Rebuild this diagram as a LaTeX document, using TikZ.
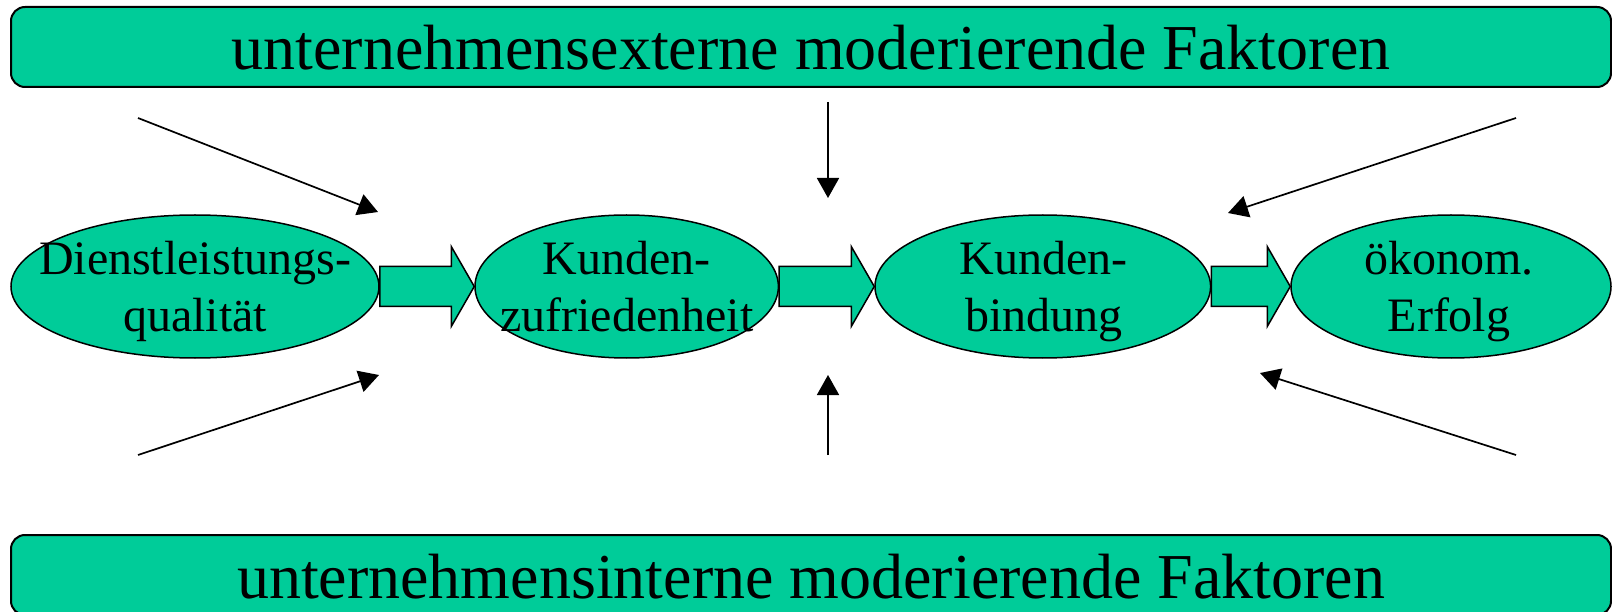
\documentclass[tikz,border=0pt]{standalone}
\usepackage{fontspec}
\setmainfont{Liberation Serif}
\usetikzlibrary{arrows.meta,calc,shapes.geometric}
\definecolor{stagegreen}{RGB}{0,204,153}
\tikzset{
  bar/.style={draw, line width=2pt, fill=stagegreen, rounded corners=14pt,
    minimum width=1600pt, minimum height=80pt, inner sep=0pt,
    font=\fontsize{64}{76}\selectfont, text height=46pt, text depth=0pt},
  stage/.style={ellipse, draw, line width=1.5pt, fill=stagegreen, inner sep=0pt, minimum height=143pt},
  stagetext/.style={align=center, inner sep=0pt, font=\fontsize{48}{57}\selectfont,
    text height=93pt, text depth=2pt},
  fat/.style={draw, line width=1.5pt, fill=stagegreen, line join=miter},
  thin/.style={line width=1.7pt, -{Triangle[length=20pt,width=22pt]}}
}
% block arrow from the right of one stage to the left of the next
\newcommand{\fatarrow}[2]{%
  \draw[fat] ($(#1.east)+(0,-20)$) -- ($(#2.west)+(-23,-20)$) -- ($(#2.west)+(-23,-40)$)
    -- (#2.west) -- ($(#2.west)+(-23,40)$) -- ($(#2.west)+(-23,20)$) -- ($(#1.east)+(0,20)$) -- cycle;}
\begin{document}
\begin{tikzpicture}[x=1pt, y=-1pt]
    \useasboundingbox (0,0) rectangle (1612,612);
    \node[bar] (extern) at (811,47) {unternehmensexterne moderierende Faktoren};
    \node[bar] (intern) at (811,575) {unternehmensinterne moderierende Faktoren};

    \node[stage, minimum width=368pt] (dq) at (195,286.5) {};
    \node[stage, minimum width=303.4pt] (kz) at (626.7,286.5) {};
    \node[stage, minimum width=335.6pt] (kb) at (1042.8,286.5) {};
    \node[stage, minimum width=320pt] (oe) at (1451,286.5) {};

    \fatarrow{dq}{kz}
    \fatarrow{kz}{kb}
    \fatarrow{kb}{oe}

    \node[stagetext] (dq-text) at (dq) {Dienstleistungs-\\qualität};
    \node[stagetext] (kz-text) at (kz) {Kunden-\\zufriedenheit};
    \node[stagetext] (kb-text) at ([xshift=1pt]kb) {Kunden-\\bindung};
    \node[stagetext] (oe-text) at ([xshift=-2pt]oe) {ökonom.\\Erfolg};

    % moderating influences
    \coordinate (tl-s) at (138,118);  \coordinate (tl-e) at (378,212);
    \coordinate (bl-s) at (138,455);  \coordinate (bl-e) at (379,375);
    \coordinate (tm-s) at (828,102);  \coordinate (tm-e) at (828,198);
    \coordinate (bm-s) at (828,455);  \coordinate (bm-e) at (828,375);
    \coordinate (tr-s) at (1516,118); \coordinate (tr-e) at (1228,213);
    \coordinate (br-s) at (1516,455); \coordinate (br-e) at (1260,373);
    \foreach \a in {tl,bl,tm,bm,tr,br}
        \draw[thin] (\a-s) -- (\a-e);
\end{tikzpicture}
\end{document}
